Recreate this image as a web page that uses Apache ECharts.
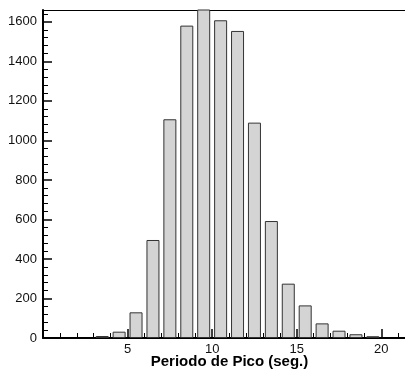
<!DOCTYPE html>
<html>
<head>
<meta charset="utf-8">
<script src="https://cdn.jsdelivr.net/npm/echarts@6/dist/echarts.min.js"></script>
<style>
  html, body { margin: 0; padding: 0; background: #fff; }
  #chart { width: 405px; height: 370px; }
</style>
</head>
<body>
<div id="chart"></div>
<script>
// Histogram of peak period: bin centres (s) and counts per bin
const binCenters = [3.5, 4.5, 5.5, 6.5, 7.5, 8.5, 9.5, 10.5, 11.5, 12.5, 13.5, 14.5, 15.5, 16.5, 17.5, 18.5, 19.5];
const counts     = [10, 32, 130, 496, 1107, 1581, 1690, 1608, 1554, 1090, 592, 275, 165, 74, 37, 19, 9];

// Axis tick values
const xMajorTicks = [5, 10, 15, 20];
const xMinorTicks = [1, 2, 3, 4, 6, 7, 8, 9, 11, 12, 13, 14, 16, 17, 18, 19, 21];
const yMajorTicks = [0, 200, 400, 600, 800, 1000, 1200, 1400, 1600];
const yMinorTicks = [];
for (let v = 40; v <= 1640; v += 40) if (v % 200 !== 0) yMinorTicks.push(v);

const xTitle = 'Periodo de Pico (seg.)';

const FONT = '"Liberation Sans", Arial, Helvetica, sans-serif';
const X_MIN = 0, X_MAX = 21.4, Y_MIN = 0, Y_MAX = 1660;

const chart = echarts.init(document.getElementById('chart'), null, { renderer: 'canvas' });

const lineStyleThick = { color: '#000', width: 2 };
const plainNumber = v => String(v);

chart.setOption({
  animation: false,
  backgroundColor: '#fff',
  grid: { left: 43, right: 0, top: 10, bottom: 32, containLabel: false, outerBoundsMode: 'none' },
  xAxis: [
    {
      type: 'value', position: 'bottom', min: X_MIN, max: X_MAX,
      axisLine: { show: true, onZero: false, lineStyle: lineStyleThick },
      axisTick: { show: true, inside: true, length: 9, customValues: xMajorTicks, lineStyle: { color: '#000', width: 1.5 } },
      axisLabel: { show: true, customValues: xMajorTicks, formatter: plainNumber, margin: 5, color: '#111', fontSize: 13, fontFamily: FONT },
      splitLine: { show: false },
      name: xTitle, nameLocation: 'middle', nameGap: 16, nameMoveOverlap: false,
      nameTextStyle: { fontFamily: FONT, fontWeight: 'bold', fontSize: 15, color: '#000', padding: [0, 0, 0, 11], verticalAlign: 'top' }
    },
    {
      type: 'value', position: 'bottom', min: X_MIN, max: X_MAX,
      axisLine: { show: false },
      axisTick: { show: true, inside: true, length: 5, customValues: xMinorTicks, lineStyle: { color: '#000', width: 1 } },
      axisLabel: { show: false },
      splitLine: { show: false }
    },
    {
      type: 'value', position: 'top', min: X_MIN, max: X_MAX,
      axisLine: { show: true, onZero: false, lineStyle: { color: '#000', width: 1.2 } },
      axisTick: { show: false }, axisLabel: { show: false }, splitLine: { show: false }
    }
  ],
  yAxis: [
    {
      type: 'value', position: 'left', min: Y_MIN, max: Y_MAX,
      axisLine: { show: true, onZero: false, lineStyle: lineStyleThick },
      axisTick: { show: true, inside: true, length: 9, customValues: yMajorTicks, lineStyle: { color: '#000', width: 1.5 } },
      axisLabel: { show: true, customValues: yMajorTicks, formatter: plainNumber, margin: 6, color: '#111', fontSize: 13, fontFamily: FONT },
      splitLine: { show: false }
    },
    {
      type: 'value', position: 'left', min: Y_MIN, max: Y_MAX,
      axisLine: { show: false },
      axisTick: { show: true, inside: true, length: 5, customValues: yMinorTicks, lineStyle: { color: '#000', width: 1 } },
      axisLabel: { show: false },
      splitLine: { show: false }
    }
  ],
  series: [
    {
      type: 'bar',
      xAxisIndex: 0, yAxisIndex: 0,
      data: binCenters.map((c, i) => [c, counts[i]]),
      barWidth: 13,
      clip: true,
      itemStyle: { color: '#d4d4d4', borderColor: '#333', borderWidth: 1 },
      emphasis: { disabled: true }
    }
  ]
});
</script>
</body>
</html>
